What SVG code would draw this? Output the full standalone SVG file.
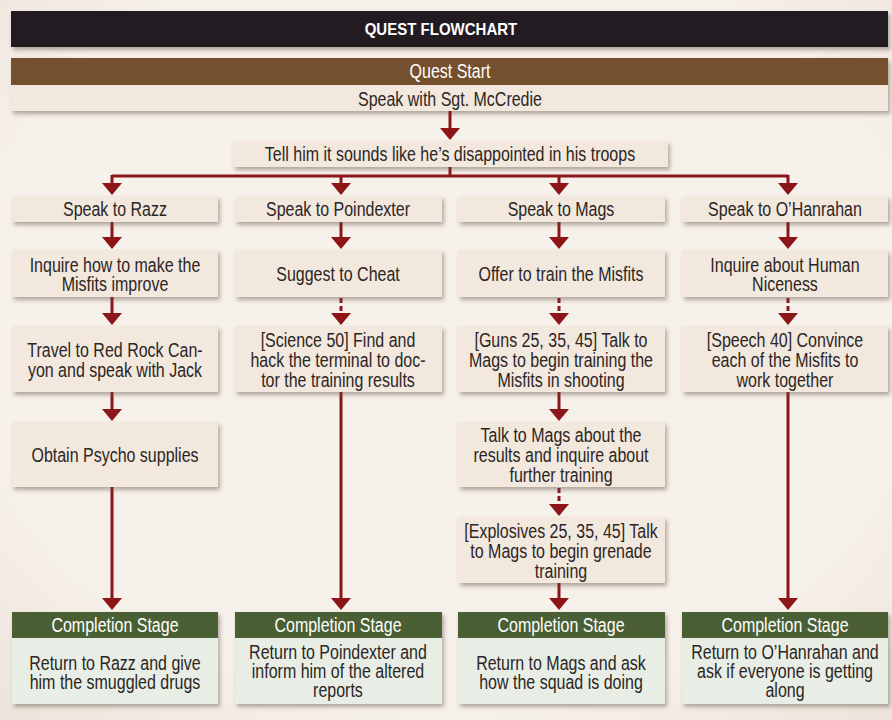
<svg xmlns="http://www.w3.org/2000/svg" width="892" height="720" viewBox="0 0 892 720">
<defs>
<filter id="sh" x="-10%" y="-20%" width="120%" height="150%">
<feDropShadow dx="2" dy="3" stdDeviation="2" flood-color="#5a4a3a" flood-opacity="0.45"/>
</filter>
<radialGradient id="bg" cx="50%" cy="45%" r="75%">
<stop offset="0.7" stop-color="#f7f1eb"/>
<stop offset="1" stop-color="#ece3da"/>
</radialGradient>
</defs>
<style>
.t{font-family:"Liberation Sans",Arial,sans-serif;font-size:19.5px;fill:#2b2624;text-anchor:middle}
.w{fill:#ffffff}
.b{fill:#f3e8de;filter:url(#sh)}
.g{fill:#4a5f34}
.gb{fill:#e8eee5}
.c{stroke:#8c1518;stroke-width:3;fill:none}
.d{stroke-dasharray:5 3}
.arr{fill:#8c1518}
</style>
<rect width="892" height="720" fill="url(#bg)"/>

<g id="title">
<rect x="11" y="11" width="877" height="36" fill="#231f20" filter="url(#sh)"/>
<g transform="scale(0.91 1)"><text x="484.6" y="35" class="t w" style="font-weight:bold;font-size:16.5px">QUEST FLOWCHART</text></g>
</g>

<g id="start">
<rect x="11" y="58" width="877" height="53" class="b"/>
<rect x="11" y="58" width="877" height="27" fill="#75502f"/>
<g transform="scale(0.82 1)">
<text x="548.78" y="78" class="t w">Quest Start</text>
<text x="548.78" y="106" class="t">Speak with Sgt. McCredie</text>
</g>
</g>

<g id="connectors">
<path class="c" d="M450,111 V129"/>
<path class="arr" d="M440,128 H460 L450,140 Z"/>
<path class="c" d="M450,167 V176 M112,176 H788 M112,175 V184 M341,175 V184 M559,175 V184 M788,175 V184"/>
<path class="arr" d="M102,183 H122 L112,195 Z M331,183 H351 L341,195 Z M549,183 H569 L559,195 Z M778,183 H798 L788,195 Z"/>
<path class="c" d="M112,222 V238 M341,222 V238 M559,222 V238 M788,222 V238"/>
<path class="arr" d="M102,237 H122 L112,249 Z M331,237 H351 L341,249 Z M549,237 H569 L559,249 Z M778,237 H798 L788,249 Z"/>
<path class="c" d="M112,297 V314"/>
<path class="c d" d="M341,298 V314 M559,298 V314 M788,298 V314"/>
<path class="arr" d="M102,313 H122 L112,325 Z M331,313 H351 L341,325 Z M549,313 H569 L559,325 Z M778,313 H798 L788,325 Z"/>
<path class="c" d="M112,392 V410 M559,392 V410"/>
<path class="arr" d="M102,409 H122 L112,421 Z M549,409 H569 L559,421 Z"/>
<path class="c d" d="M559,488 V505"/>
<path class="arr" d="M549,504 H569 L559,516 Z"/>
<path class="c" d="M112,487 V599 M341,392 V599 M788,392 V599 M559,583 V599"/>
<path class="arr" d="M102,598 H122 L112,610 Z M331,598 H351 L341,610 Z M549,598 H569 L559,610 Z M778,598 H798 L788,610 Z"/>
</g>

<g id="tell">
<rect x="233" y="141" width="435" height="26" class="b"/>
<g transform="scale(0.82 1)"><text x="548.78" y="161" class="t">Tell him it sounds like he’s disappointed in his troops</text></g>
</g>

<g id="razz">
<rect x="12" y="196" width="206" height="26" class="b"/>
<g transform="scale(0.82 1)"><text x="140.24" y="216" class="t">Speak to Razz</text></g>
</g>
<g id="poindexter">
<rect x="235" y="196" width="207" height="26" class="b"/>
<g transform="scale(0.82 1)"><text x="412.2" y="216" class="t">Speak to Poindexter</text></g>
</g>
<g id="mags">
<rect x="458" y="196" width="207" height="26" class="b"/>
<g transform="scale(0.82 1)"><text x="684.15" y="216" class="t">Speak to Mags</text></g>
</g>
<g id="ohanrahan">
<rect x="682" y="196" width="206" height="26" class="b"/>
<g transform="scale(0.82 1)"><text x="957.32" y="216" class="t">Speak to O’Hanrahan</text></g>
</g>

<g id="inquire">
<rect x="12" y="250" width="206" height="47" class="b"/>
<g transform="scale(0.82 1)">
<text x="140.24" y="272" class="t">Inquire how to make the</text>
<text x="140.24" y="291" class="t">Misfits improve</text>
</g>
</g>
<g id="cheat">
<rect x="235" y="250" width="207" height="47" class="b"/>
<g transform="scale(0.82 1)"><text x="412.2" y="281" class="t">Suggest to Cheat</text></g>
</g>
<g id="offer">
<rect x="458" y="250" width="207" height="47" class="b"/>
<g transform="scale(0.82 1)"><text x="684.15" y="281" class="t">Offer to train the Misfits</text></g>
</g>
<g id="human">
<rect x="682" y="250" width="206" height="47" class="b"/>
<g transform="scale(0.82 1)">
<text x="957.32" y="272" class="t">Inquire about Human</text>
<text x="957.32" y="291" class="t">Niceness</text>
</g>
</g>

<g id="travel">
<rect x="12" y="326" width="206" height="66" class="b"/>
<g transform="scale(0.82 1)">
<text x="140.24" y="357" class="t">Travel to Red Rock Can-</text>
<text x="140.24" y="377" class="t">yon and speak with Jack</text>
</g>
</g>
<g id="science">
<rect x="235" y="326" width="207" height="66" class="b"/>
<g transform="scale(0.82 1)">
<text x="412.2" y="347" class="t">[Science 50] Find and</text>
<text x="412.2" y="367" class="t">hack the terminal to doc-</text>
<text x="412.2" y="387" class="t">tor the training results</text>
</g>
</g>
<g id="guns">
<rect x="458" y="326" width="207" height="66" class="b"/>
<g transform="scale(0.82 1)">
<text x="684.15" y="347" class="t">[Guns 25, 35, 45] Talk to</text>
<text x="684.15" y="367" class="t">Mags to begin training the</text>
<text x="684.15" y="387" class="t">Misfits in shooting</text>
</g>
</g>
<g id="speech">
<rect x="682" y="326" width="206" height="66" class="b"/>
<g transform="scale(0.82 1)">
<text x="957.32" y="347" class="t">[Speech 40] Convince</text>
<text x="957.32" y="367" class="t">each of the Misfits to</text>
<text x="957.32" y="387" class="t">work together</text>
</g>
</g>

<g id="psycho">
<rect x="12" y="422" width="206" height="65" class="b"/>
<g transform="scale(0.82 1)"><text x="140.24" y="462" class="t">Obtain Psycho supplies</text></g>
</g>
<g id="results">
<rect x="458" y="422" width="207" height="65" class="b"/>
<g transform="scale(0.82 1)">
<text x="684.15" y="442" class="t">Talk to Mags about the</text>
<text x="684.15" y="462" class="t">results and inquire about</text>
<text x="684.15" y="482" class="t">further training</text>
</g>
</g>
<g id="explosives">
<rect x="458" y="517" width="207" height="66" class="b"/>
<g transform="scale(0.82 1)">
<text x="684.15" y="538" class="t">[Explosives 25, 35, 45] Talk</text>
<text x="684.15" y="558" class="t">to Mags to begin grenade</text>
<text x="684.15" y="578" class="t">training</text>
</g>
</g>

<g id="done-razz">
<rect x="12" y="612" width="206" height="92" class="gb" filter="url(#sh)"/>
<rect x="12" y="612" width="206" height="26" class="g"/>
<g transform="scale(0.82 1)">
<text x="140.24" y="632" class="t w">Completion Stage</text>
<text x="140.24" y="670" class="t">Return to Razz and give</text>
<text x="140.24" y="689" class="t">him the smuggled drugs</text>
</g>
</g>
<g id="done-poindexter">
<rect x="235" y="612" width="207" height="92" class="gb" filter="url(#sh)"/>
<rect x="235" y="612" width="207" height="26" class="g"/>
<g transform="scale(0.82 1)">
<text x="412.2" y="632" class="t w">Completion Stage</text>
<text x="412.2" y="659" class="t">Return to Poindexter and</text>
<text x="412.2" y="678" class="t">inform him of the altered</text>
<text x="412.2" y="697" class="t">reports</text>
</g>
</g>
<g id="done-mags">
<rect x="458" y="612" width="207" height="92" class="gb" filter="url(#sh)"/>
<rect x="458" y="612" width="207" height="26" class="g"/>
<g transform="scale(0.82 1)">
<text x="684.15" y="632" class="t w">Completion Stage</text>
<text x="684.15" y="670" class="t">Return to Mags and ask</text>
<text x="684.15" y="689" class="t">how the squad is doing</text>
</g>
</g>
<g id="done-ohanrahan">
<rect x="682" y="612" width="206" height="92" class="gb" filter="url(#sh)"/>
<rect x="682" y="612" width="206" height="26" class="g"/>
<g transform="scale(0.82 1)">
<text x="957.32" y="632" class="t w">Completion Stage</text>
<text x="957.32" y="659" class="t">Return to O’Hanrahan and</text>
<text x="957.32" y="678" class="t">ask if everyone is getting</text>
<text x="957.32" y="697" class="t">along</text>
</g>
</g>
</svg>
